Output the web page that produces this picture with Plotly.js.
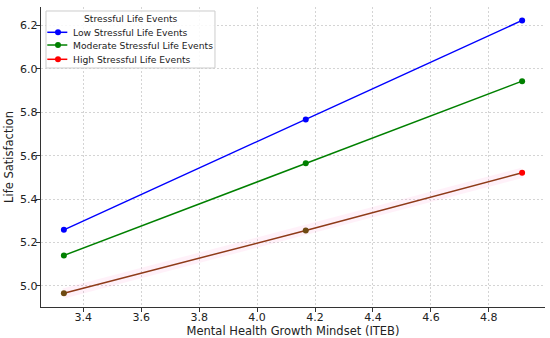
<!DOCTYPE html>
<html>
<head>
<meta charset="utf-8">
<script src="https://cdn.plot.ly/plotly-3.0.1.min.js"></script>
<style>html,body{margin:0;padding:0;background:#fff;}#chart{width:550px;height:338px;}</style>
</head>
<body>
<div id="chart"></div>
<script>
const mindsetX = [3.333, 4.168, 4.915];
const legendTitle = "Stressful Life Events";
const seriesNames = ["Low Stressful Life Events", "Moderate Stressful Life Events", "High Stressful Life Events"];
const seriesColors = ["#0000ff", "#008000", "#ff0000"];
const lowValues = [5.258, 5.767, 6.224];
const moderateValues = [5.140, 5.565, 5.944];
const highValues = [4.965, 5.255, 5.521];
const xTicks = [3.4, 3.6, 3.8, 4.0, 4.2, 4.4, 4.6, 4.8];
const yTicks = [5.0, 5.2, 5.4, 5.6, 5.8, 6.0, 6.2];

const font = {family: "DejaVu Sans", size: 11, color: "#222"};
const titleFont = {family: "DejaVu Sans", size: 11.5, color: "#222"};
const legFont = {family: "DejaVu Sans", size: 9.2, color: "#222"};

const traces = [
  {x: mindsetX, y: highValues, mode: "lines", line: {color: "rgba(255,120,200,0.10)", width: 10},
   hoverinfo: "skip", showlegend: false},
  {x: mindsetX, y: lowValues, name: seriesNames[0], mode: "lines+markers",
   line: {color: seriesColors[0], width: 1.5}, marker: {color: seriesColors[0], size: 6}},
  {x: mindsetX, y: moderateValues, name: seriesNames[1], mode: "lines+markers",
   line: {color: seriesColors[1], width: 1.5}, marker: {color: seriesColors[1], size: 6}},
  {x: mindsetX, y: highValues, name: seriesNames[2], mode: "lines+markers",
   line: {color: "#8e3a18", width: 1.5}, marker: {color: ["#6e4a12", "#6e4a12", "#ff0000"], size: 6}}
];

// custom legend (matplotlib-style)
const shapes = [
  {type: "rect", xref: "paper", yref: "paper", x0: 0.0099, x1: 0.3452, y0: 0.7967, y1: 0.9867,
   fillcolor: "rgba(255,255,255,0.85)", line: {color: "#cccccc", width: 1}, layer: "above"}
];
const annotations = [
  {xref: "paper", yref: "paper", x: 0.1776, y: 0.9623, text: legendTitle, showarrow: false,
   xanchor: "center", yanchor: "middle", font: legFont}
];
const entryY = [0.9157, 0.8733, 0.8257];
seriesNames.forEach((name, i) => {
  shapes.push({type: "line", xref: "paper", yref: "paper", x0: 0.0125, x1: 0.0522, y0: entryY[i], y1: entryY[i],
    line: {color: seriesColors[i], width: 1.5}, layer: "above"});
  shapes.push({type: "circle", xref: "paper", yref: "paper", xsizemode: "pixel", ysizemode: "pixel",
    xanchor: 0.0337, yanchor: entryY[i], x0: -3, x1: 3, y0: -3, y1: 3,
    fillcolor: seriesColors[i], line: {color: seriesColors[i], width: 0}, layer: "above"});
  annotations.push({xref: "paper", yref: "paper", x: 0.0655, y: entryY[i], text: name, showarrow: false,
    xanchor: "left", yanchor: "middle", xshift: -3, font: legFont});
});

const gridStyle = {showgrid: true, gridcolor: "#d4d4d4", griddash: "2px,2px", gridwidth: 1};

const layout = {
  width: 550, height: 338,
  margin: {l: 41, r: 5, t: 7, b: 31},
  paper_bgcolor: "#fff", plot_bgcolor: "#fff",
  font: font,
  showlegend: false,
  shapes: shapes,
  annotations: annotations,
  xaxis: Object.assign({
    range: [3.254, 4.994], tickvals: xTicks, ticktext: xTicks.map(v => v.toFixed(1)),
    showline: true, linecolor: "#333", linewidth: 1.2, ticks: "",
    minor: {tickvals: xTicks, ticks: "outside", ticklen: 4, tickcolor: "#333", tickwidth: 1, showgrid: false},
    zeroline: false, tickfont: font, automargin: false,
    title: {text: "Mental Health Growth Mindset (ITEB)", font: titleFont, standoff: 3}
  }, gridStyle),
  yaxis: Object.assign({
    range: [4.902, 6.286], tickvals: yTicks, ticktext: yTicks.map(v => v.toFixed(1)),
    showline: true, linecolor: "#333", linewidth: 1.2, ticks: "",
    minor: {tickvals: yTicks, ticks: "outside", ticklen: 4, tickcolor: "#333", tickwidth: 1, showgrid: false},
    zeroline: false, tickfont: font, automargin: false,
    title: {text: "Life Satisfaction", font: titleFont, standoff: 4}
  }, gridStyle)
};

Plotly.newPlot("chart", traces, layout, {displayModeBar: false, staticPlot: true});
</script>
</body>
</html>
